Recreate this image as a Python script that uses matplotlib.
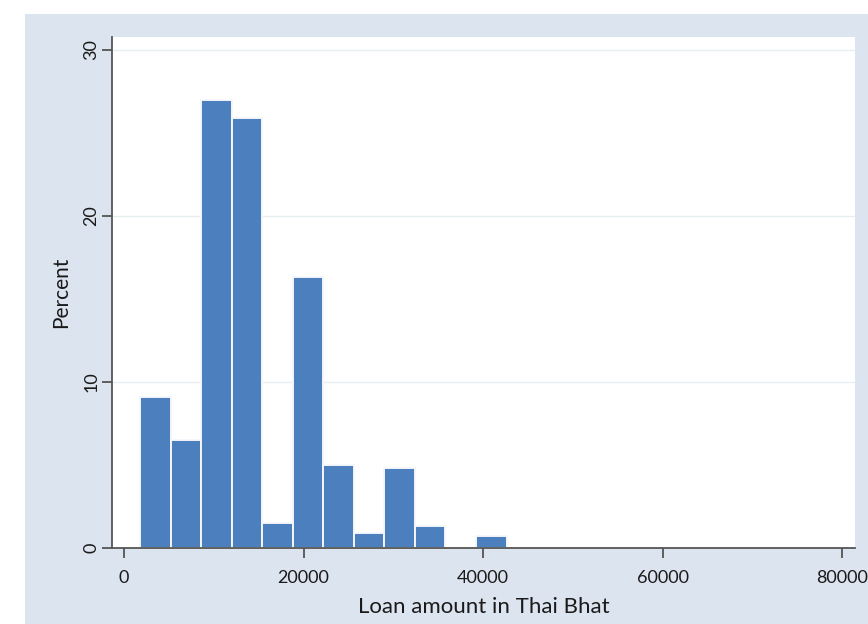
import matplotlib
matplotlib.use("Agg")
import matplotlib.pyplot as plt

# Histogram bins (Thai Baht) and percent per bin
bin_start = 1800
bin_width = 3400
percents = [9.1, 6.5, 27.0, 25.9, 1.5, 16.3, 5.0, 0.9, 4.8, 1.3, 0.0, 0.75,
            0.0, 0.0, 0.0, 0.0, 0.0, 0.0, 0.0, 0.0, 0.0, 0.0, 0.0]
x_ticks = [0, 20000, 40000, 60000, 80000]
y_ticks = [0, 10, 20, 30]
x_label = "Loan amount in Thai Bhat"
y_label = "Percent"

plt.rcParams['font.family'] = ['Lato', 'DejaVu Sans']

W, H = 868, 624
fig = plt.figure(figsize=(W / 100, H / 100), dpi=100)
fig.patch.set_facecolor('white')

bgax = fig.add_axes([25 / W, 0, 1 - 25 / W, 1 - 14 / H], zorder=-5)
bgax.set_facecolor('#dce4ef')
bgax.set_xticks([])
bgax.set_yticks([])
for s in bgax.spines.values():
    s.set_visible(False)

ax = fig.add_axes([112 / W, (H - 548) / H, (855 - 112) / W, (548 - 36.7) / H], zorder=1)
ax.set_facecolor('white')

lefts = [bin_start + i * bin_width for i in range(len(percents))]
lws = [1.4 if p > 0 else 0 for p in percents]
ax.bar(lefts, percents, width=bin_width, align='edge', color='#4b7fbd',
       edgecolor='#f4f7fb', linewidth=lws, zorder=3)

ax.set_xlim(-1336, 81410)
ax.set_ylim(0, 30.8)
ax.set_xticks(x_ticks)
ax.set_xticklabels([str(t) for t in x_ticks])
ax.set_yticks(y_ticks)
ax.set_yticklabels([str(t) for t in y_ticks], rotation=90, va='center')

for y in y_ticks[1:]:
    ax.axhline(y, color='#e6eef0', linewidth=1.0, zorder=1)

for s in ['top', 'right']:
    ax.spines[s].set_visible(False)
for s in ['left', 'bottom']:
    ax.spines[s].set_color('#555555')
    ax.spines[s].set_linewidth(1.3)
    ax.spines[s].set_zorder(5)

ax.tick_params(axis='both', direction='out', length=7, width=1.3,
               color='#555555', labelsize=13, labelcolor='#1a1a1a', pad=9)
ax.tick_params(axis='y', pad=2)

ax.set_xlabel(x_label, fontsize=16, color='#1a1a1a', labelpad=8)
ax.set_ylabel(y_label, fontsize=15, color='#1a1a1a', labelpad=9)

fig.savefig('out.png', dpi=100, facecolor='white')
